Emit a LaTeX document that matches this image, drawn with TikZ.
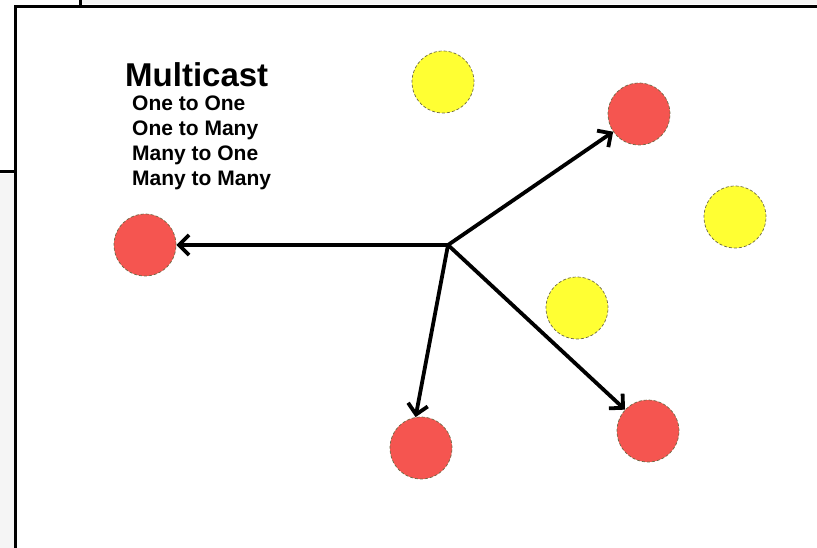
\documentclass[tikz,border=0pt]{standalone}
\usepackage{fontspec}
\setmainfont{Liberation Sans}
\usetikzlibrary{arrows.meta}
\definecolor{nodered}{RGB}{245,85,80}
\definecolor{nodeyellow}{RGB}{255,255,51}
\definecolor{rimcol}{RGB}{110,105,70}
\begin{document}
\begin{tikzpicture}[x=1pt,y=-1pt,
  dotband/.style={fill=black!4,draw=none},
  framel/.style={draw=black,line width=3pt},
  hostbase/.style={circle,inner sep=0pt,minimum size=62pt,draw=rimcol,line width=0.7pt,densely dashed},
  redhost/.style={hostbase,fill=nodered},
  yellowhost/.style={hostbase,fill=nodeyellow},
  sendarrow/.style={line width=3.8pt,-{Straight Barb[length=10pt,width=20pt,line width=3.8pt]}},
  titletext/.style={anchor=base west,inner sep=0pt,font=\fontsize{33}{36}\selectfont\bfseries},
  itemtext/.style={anchor=base west,inner sep=0pt,font=\fontsize{21}{24}\selectfont\bfseries}
]
\useasboundingbox (0,0) rectangle (817,548);
% background artefacts / frame
\fill[dotband] (81,0) rectangle (817,4);
\fill[dotband] (0,174) rectangle (14,548);
\draw[framel] (15,548) -- (15,6.5) -- (817,6.5);
\draw[framel] (80,0) -- (80,6);
\draw[framel] (0,172) -- (15,172);
% text
\node[titletext] (title) at (125,87) {Multicast};
\node[itemtext] (l1) at (132,111) {One to One};
\node[itemtext] (l2) at (132,136) {One to Many};
\node[itemtext] (l3) at (132,161) {Many to One};
\node[itemtext] (l4) at (132,185.5) {Many to Many};
% hosts
\node[yellowhost] (y1) at (443,82) {};
\node[redhost] (rTR) at (639,114) {};
\node[yellowhost] (y2) at (735,217) {};
\node[redhost] (rL) at (145,245) {};
\node[yellowhost] (y3) at (577,308) {};
\node[redhost] (rBL) at (421,448) {};
\node[redhost] (rBR) at (648,431) {};
% hub
\coordinate (hub) at (448,245);
\draw[sendarrow] (hub) -- (rL);
\draw[sendarrow] (hub) -- (rTR);
\draw[sendarrow] (hub) -- (rBL.100);
\draw[sendarrow] (hub) -- (rBR);
\end{tikzpicture}
\end{document}
